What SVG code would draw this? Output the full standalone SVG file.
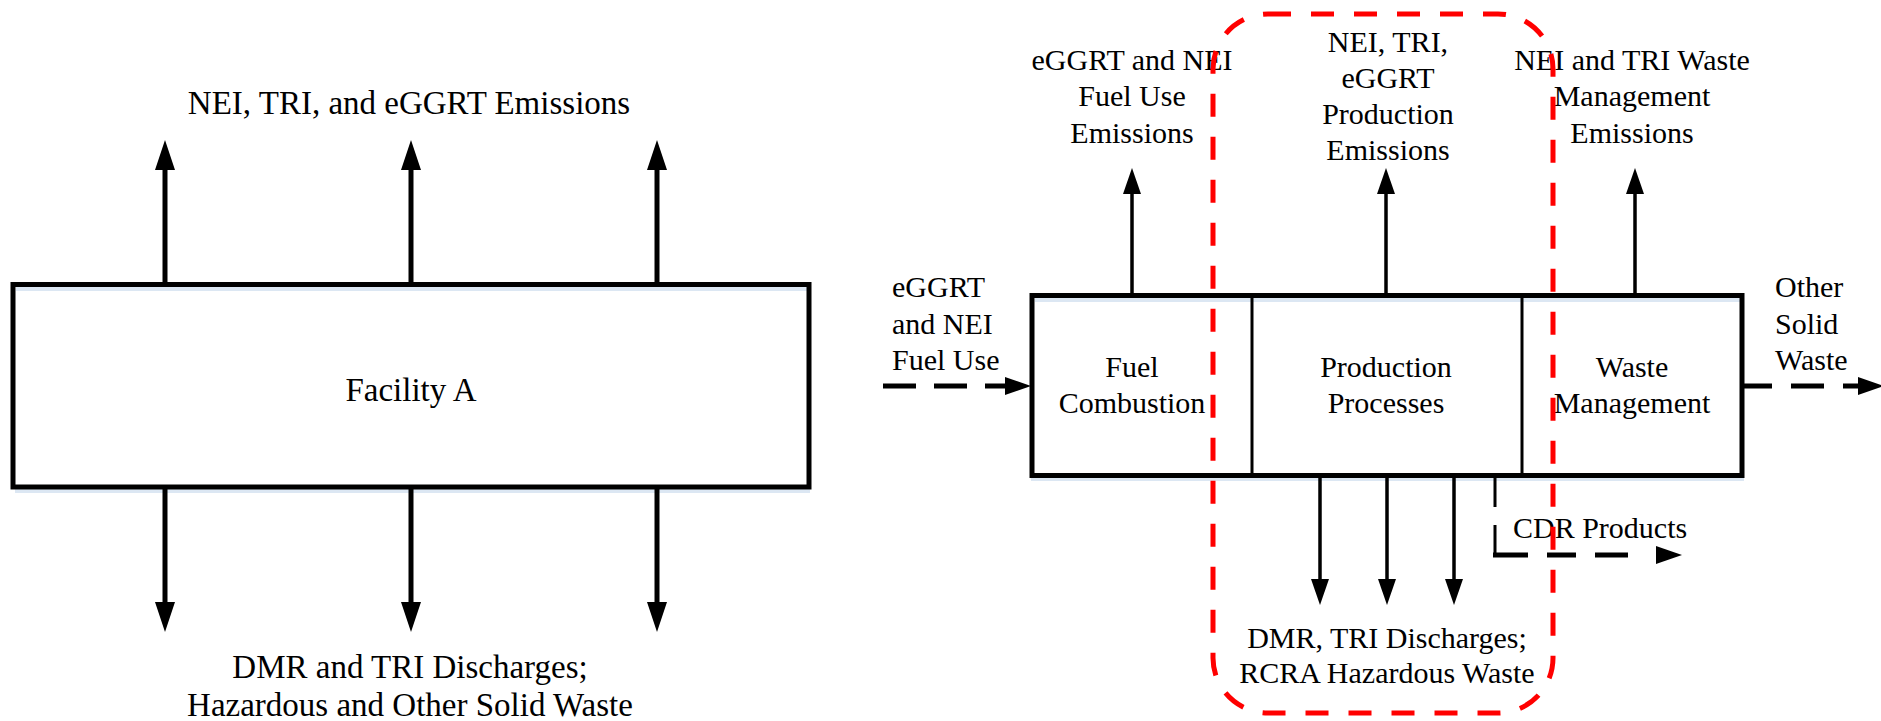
<svg xmlns="http://www.w3.org/2000/svg" width="1881" height="721" viewBox="0 0 1881 721" font-family="'Liberation Serif', Tinos, 'Times New Roman', 'DejaVu Serif', serif">
<defs>
<style>
text{font-family:"Liberation Serif",Tinos,"Times New Roman","DejaVu Serif",serif;fill:#000}
.big{font-size:33px}
.sm{font-size:30px}
.c{text-anchor:middle}
.box{fill:#fff;stroke:#000;stroke-width:5}
.div{stroke:#000;stroke-width:3}
.shadow{stroke:#dce7f3;stroke-width:4;fill:none}
.a5{stroke:#000;stroke-width:5;fill:none}
.a4{stroke:#000;stroke-width:3.5;fill:none}
.d5{stroke:#000;stroke-width:5;fill:none;stroke-dasharray:33 18}
.red{fill:none;stroke:#ff0000;stroke-width:5;stroke-dasharray:23 20}
</style>
<marker id="hL" markerUnits="userSpaceOnUse" markerWidth="31" markerHeight="22" viewBox="0 0 31 22" refX="1" refY="11" orient="auto"><path d="M0,1 L30,11 L0,21Z" fill="#000"/></marker>
<marker id="hS" markerUnits="userSpaceOnUse" markerWidth="27" markerHeight="20" viewBox="0 0 27 20" refX="1" refY="10" orient="auto"><path d="M0,1 L26,10 L0,19Z" fill="#000"/></marker>
</defs>

<g id="facility-a">
<line class="shadow" x1="15" y1="491" x2="810" y2="491"/>
<line class="shadow" x1="16" y1="289" x2="807" y2="289"/>
<rect class="box" x="13" y="284.5" width="796" height="202.5" fill-opacity="0"/>
<text class="big c" x="411" y="401">Facility A</text>
</g>

<g id="left-labels">
<text class="big c" x="409" y="114">NEI, TRI, and eGGRT Emissions</text>
<text class="big c" x="410" y="678">DMR and TRI Discharges;</text>
<text class="big c" x="410" y="716">Hazardous and Other Solid Waste</text>
</g>

<g id="process-box">
<line class="shadow" x1="1035" y1="300" x2="1740" y2="300"/>
<line class="shadow" x1="1031" y1="479" x2="1744" y2="479"/>
<rect class="box" x="1032" y="295.5" width="710" height="180" fill-opacity="0"/>
<line class="div" x1="1252" y1="295.5" x2="1252" y2="475.5"/>
<line class="div" x1="1522" y1="295.5" x2="1522" y2="475.5"/>
</g>
<g id="fuel-combustion">
<text class="sm c" x="1132" y="377">Fuel</text>
<text class="sm c" x="1132" y="413">Combustion</text>
</g>
<g id="production-processes">
<text class="sm c" x="1386" y="377">Production</text>
<text class="sm c" x="1386" y="413">Processes</text>
</g>
<g id="waste-management">
<text class="sm c" x="1632" y="377">Waste</text>
<text class="sm c" x="1632" y="413">Management</text>
</g>

<g id="right-labels">
<text class="sm c" x="1132" y="70">eGGRT and NEI</text>
<text class="sm c" x="1132" y="106">Fuel Use</text>
<text class="sm c" x="1132" y="143">Emissions</text>
<text class="sm c" x="1388" y="52">NEI, TRI,</text>
<text class="sm c" x="1388" y="88">eGGRT</text>
<text class="sm c" x="1388" y="124">Production</text>
<text class="sm c" x="1388" y="160">Emissions</text>
<text class="sm c" x="1632" y="70">NEI and TRI Waste</text>
<text class="sm c" x="1632" y="106">Management</text>
<text class="sm c" x="1632" y="143">Emissions</text>
<text class="sm" x="892" y="297">eGGRT</text>
<text class="sm" x="892" y="334">and NEI</text>
<text class="sm" x="892" y="370">Fuel Use</text>
<text class="sm" x="1775" y="297">Other</text>
<text class="sm" x="1775" y="334">Solid</text>
<text class="sm" x="1775" y="370">Waste</text>
<text class="sm" x="1513" y="538">CDR Products</text>
<text class="sm c" x="1387" y="648">DMR, TRI Discharges;</text>
<text class="sm c" x="1387" y="683">RCRA Hazardous Waste</text>
</g>

<g id="connectors">
<line class="a5" x1="165" y1="284" x2="165" y2="169" marker-end="url(#hL)"/>
<line class="a5" x1="411" y1="284" x2="411" y2="169" marker-end="url(#hL)"/>
<line class="a5" x1="657" y1="284" x2="657" y2="169" marker-end="url(#hL)"/>
<line class="a5" x1="165" y1="488" x2="165" y2="603" marker-end="url(#hL)"/>
<line class="a5" x1="411" y1="488" x2="411" y2="603" marker-end="url(#hL)"/>
<line class="a5" x1="657" y1="488" x2="657" y2="603" marker-end="url(#hL)"/>

<line class="a4" x1="1132" y1="294" x2="1132" y2="193" marker-end="url(#hS)"/>
<line class="a4" x1="1386" y1="294" x2="1386" y2="193" marker-end="url(#hS)"/>
<line class="a4" x1="1635" y1="294" x2="1635" y2="193" marker-end="url(#hS)"/>
<line class="a4" x1="1320" y1="477" x2="1320" y2="580" marker-end="url(#hS)"/>
<line class="a4" x1="1387" y1="477" x2="1387" y2="580" marker-end="url(#hS)"/>
<line class="a4" x1="1454" y1="477" x2="1454" y2="580" marker-end="url(#hS)"/>

<line class="d5" x1="883" y1="386" x2="1006" y2="386" marker-end="url(#hS)"/>
<line class="d5" x1="1744" y1="386" x2="1859" y2="386" style="stroke-dasharray:28 19 33 19 20 40" marker-end="url(#hS)"/>
<line class="a4" x1="1495" y1="478" x2="1495" y2="555" style="stroke-width:3;stroke-dasharray:29 18 40"/>
<line class="d5" x1="1493" y1="555" x2="1657" y2="555" style="stroke-dasharray:35 19 29 19 33 40" marker-end="url(#hS)"/>
</g>

<g id="boundary">
<rect class="red" x="1213" y="14" width="340" height="699" rx="55" ry="55"/>
</g>
</svg>
